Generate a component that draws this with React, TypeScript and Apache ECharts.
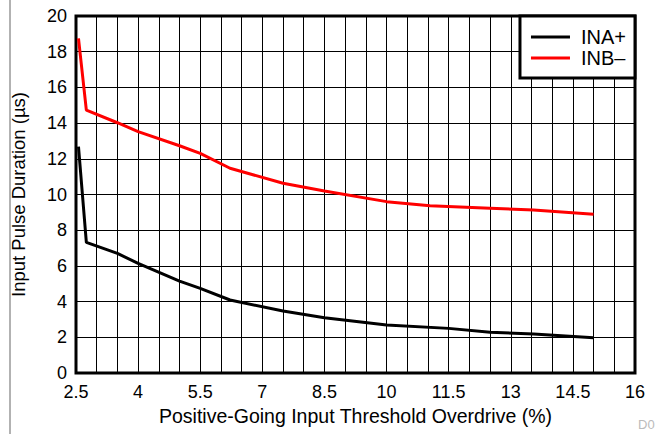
import React, { useEffect, useRef } from "react";
import * as echarts from "echarts";

const xInaPlus = [2.56, 2.75, 3.5, 4.0, 5.0, 5.5, 6.22, 7.5, 8.5, 10.0, 11.5, 12.5, 13.55, 15.0];
const yInaPlus = [12.68, 7.32, 6.7, 6.14, 5.15, 4.74, 4.09, 3.47, 3.1, 2.69, 2.5, 2.28, 2.19, 1.98];
const xInbMinus = [2.56, 2.75, 3.5, 4.0, 5.0, 5.5, 6.22, 7.5, 8.5, 10.0, 11.05, 12.5, 13.55, 15.0];
const yInbMinus = [18.75, 14.73, 14.02, 13.52, 12.73, 12.3, 11.47, 10.63, 10.2, 9.6, 9.37, 9.23, 9.13, 8.89];
const xLabelTicks = [2.5, 4, 5.5, 7, 8.5, 10, 11.5, 13, 14.5, 16];
const seriesNames = ["INA+", "INB\u2013"];

const FONT = "'Liberation Sans', Arial, sans-serif";

export default function App() {
  const ref = useRef<HTMLDivElement>(null);
  useEffect(() => {
    if (!ref.current) return;
    const chart = echarts.init(ref.current, undefined, { renderer: "svg" });
    chart.setOption({
      animation: false,
      backgroundColor: "#fff",
      textStyle: { fontFamily: FONT },
      grid: {
        left: 76,
        top: 16,
        right: 20,
        bottom: 61,
        show: true,
        borderColor: "#000",
        borderWidth: 3,
        z: 3,
      },
      legend: {
        right: 20,
        top: 16,
        orient: "vertical",
        backgroundColor: "#fff",
        borderColor: "#000",
        borderWidth: 3,
        padding: [11, 9, 10, 11],
        itemGap: 1,
        itemWidth: 39,
        itemHeight: 3,
        icon: "rect",
        textStyle: { fontFamily: FONT, fontSize: 20, color: "#000", padding: [0, 0, 0, 6], lineHeight: 20 },
        data: seriesNames,
      },
      xAxis: {
        type: "value",
        min: 2.5,
        max: 16,
        interval: 0.5,
        name: "Positive-Going Input Threshold Overdrive (%)",
        nameLocation: "middle",
        nameGap: 29,
        nameTextStyle: { fontFamily: FONT, fontSize: 19.5, color: "#000" },
        axisLine: { show: false },
        axisTick: { show: false },
        axisLabel: {
          fontFamily: FONT,
          fontSize: 18,
          color: "#000",
          margin: 10,
          formatter: (v: number) =>
            xLabelTicks.some((t) => Math.abs(t - v) < 1e-6) ? String(v) : "",
        },
        splitLine: { show: true, lineStyle: { color: "#000", width: 1 } },
      },
      yAxis: {
        type: "value",
        min: 0,
        max: 20,
        interval: 2,
        name: "Input Pulse Duration (\u00b5s)",
        nameLocation: "middle",
        nameGap: 48,
        nameTextStyle: { fontFamily: FONT, fontSize: 18.5, color: "#000" },
        axisLine: { show: false },
        axisTick: { show: false },
        axisLabel: { fontFamily: FONT, fontSize: 18, color: "#000", margin: 9 },
        splitLine: { show: true, lineStyle: { color: "#000", width: 1 } },
      },
      series: [
        {
          name: seriesNames[0],
          type: "line",
          symbol: "none",
          z: 5,
          lineStyle: { color: "#000", width: 3 },
          itemStyle: { color: "#000" },
          data: xInaPlus.map((x, i) => [x, yInaPlus[i]]),
        },
        {
          name: seriesNames[1],
          type: "line",
          symbol: "none",
          z: 5,
          lineStyle: { color: "#ff0000", width: 3 },
          itemStyle: { color: "#ff0000" },
          data: xInbMinus.map((x, i) => [x, yInbMinus[i]]),
        },
      ],
      graphic: [
        {
          type: "line",
          shape: { x1: 10, y1: 0, x2: 10, y2: 434 },
          style: { stroke: "#999", lineWidth: 1.5 },
        },
        {
          type: "text",
          left: 638,
          top: 418,
          style: { text: "D0", fill: "#bbb", font: "13px " + FONT },
        },
      ],
    });
    return () => chart.dispose();
  }, []);
  return <div ref={ref} style={{ width: 655, height: 434, position: "absolute", left: 0, top: 0 }} />;
}
